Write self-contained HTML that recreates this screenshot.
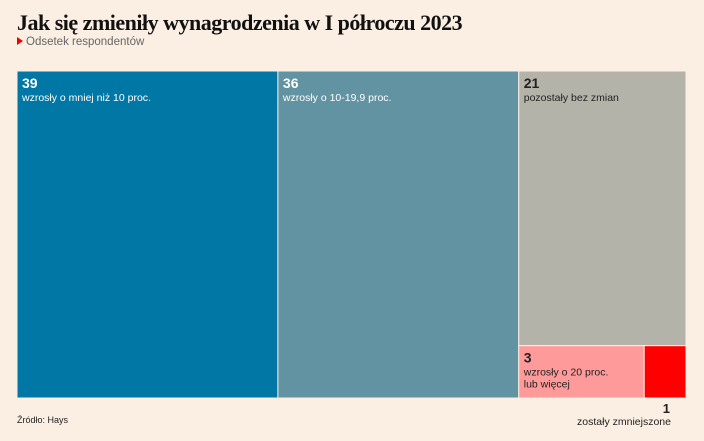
<!DOCTYPE html>
<html><head><meta charset="utf-8"><style>
body{margin:0;width:704px;height:441px;background:#fbefe3;font-family:"Liberation Sans",sans-serif;position:relative;overflow:hidden}
h1{position:absolute;left:17px;top:10px;margin:0;font-family:"Liberation Serif",serif;font-weight:bold;font-size:22px;letter-spacing:-0.5px;color:#111}
.sub{position:absolute;left:17px;top:36px;font-size:11.5px;color:#666}
.sub i{display:inline-block;width:0;height:0;border-left:6px solid #e00;border-top:4.5px solid transparent;border-bottom:4.5px solid transparent;margin-right:3px}
.src{position:absolute;left:17px;top:415px;font-size:9px;color:#222}
</style></head><body>
<h1>Jak się zmieniły wynagrodzenia w I półroczu 2023</h1>
<div class="sub"><i></i>Odsetek respondentów</div>
<svg id="tm" width="704" height="441" style="position:absolute;left:0;top:0"></svg>
<div class="src">Źródło: Hays</div>
<script>
const labels=["wzrosły o mniej niż 10 proc.","wzrosły o 10-19,9 proc.","pozostały bez zmian","wzrosły o 20 proc.|lub więcej","zostały zmniejszone"];
const values=[39,36,21,3,1];
const colors=["#0077a5","#6293a2","#b4b3aa","#ff9a9a","#ff0000"];
const svg=document.getElementById('tm');const NS="http://www.w3.org/2000/svg";
const X0=17,Y0=71,W=669,H=327;
const total=values.reduce((a,b)=>a+b,0);
const rects=[];
let x=X0;
for(let i=0;i<2;i++){const w=W*values[i]/total;rects.push([x,Y0,w,H]);x+=w;}
const rest=values[2]+values[3]+values[4];const cw=X0+W-x;
const h2=H*values[2]/rest;rects.push([x,Y0,cw,h2]);
const bh=H-h2;const sm=values[3]+values[4];
const w3=cw*values[3]/sm;rects.push([x,Y0+h2,w3,bh]);rects.push([x+w3,Y0+h2,cw-w3,bh]);
function t(px,py,s,sz,bold,anchor){const e=document.createElementNS(NS,'text');e.setAttribute('x',px);e.setAttribute('y',py);e.setAttribute('font-size',sz);if(bold)e.setAttribute('font-weight','bold');if(anchor)e.setAttribute('text-anchor',anchor);e.setAttribute('font-family','Liberation Sans, sans-serif');e.textContent=s;svg.appendChild(e);return e;}
rects.forEach((r,i)=>{
const el=document.createElementNS(NS,'rect');
el.setAttribute('x',r[0]);el.setAttribute('y',r[1]);el.setAttribute('width',r[2]);el.setAttribute('height',r[3]);
el.setAttribute('fill',colors[i]);el.setAttribute('stroke','#fbefe3');el.setAttribute('stroke-width','1');


svg.appendChild(el);
const light=i<2;const col=light?'#fff':'#222';
if(i<4){
const a=t(r[0]+5,r[1]+17,values[i],14,true);a.setAttribute('fill',col);


labels[i].split('|').forEach((ln,k)=>{const b=t(r[0]+5,r[1]+30+k*12,ln,10.5,false);b.setAttribute('fill',col);

});
}else{
const ex=r[0]+r[2]-16;
const a=t(ex,r[1]+r[3]+15,values[i],13,true,'end');a.setAttribute('fill','#222');


const b=t(ex+1,r[1]+r[3]+27,labels[i],10.5,false,'end');b.setAttribute('fill','#222');


}
});
</script>
</body></html>
